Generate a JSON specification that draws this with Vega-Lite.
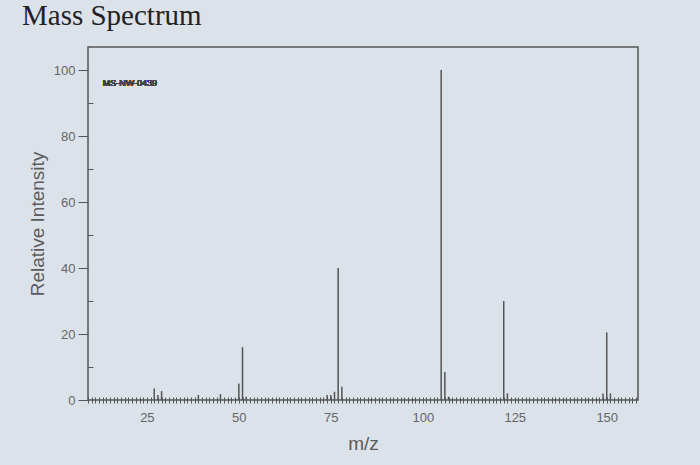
{
  "$schema": "https://vega.github.io/schema/vega-lite/v6.json",
  "autosize": "none",
  "width": 550,
  "height": 353,
  "padding": {"left": 88, "top": 47, "right": 62, "bottom": 65},
  "background": "#dce2ea",
  "title": {
    "text": "Mass Spectrum",
    "anchor": "start",
    "frame": "group",
    "dx": -66,
    "offset": 16,
    "font": "Liberation Serif",
    "fontSize": 29,
    "fontWeight": "normal",
    "color": "#222222"
  },
  "config": {
    "view": {"stroke": "#555555", "strokeWidth": 1.5},
    "axis": {
      "labelFont": "Liberation Sans",
      "titleFont": "Liberation Sans",
      "labelColor": "#666666",
      "titleColor": "#5a5a5a",
      "tickColor": "#555555",
      "domainColor": "#555555",
      "labelFontSize": 13,
      "titleFontSize": 19,
      "titleFontWeight": "normal",
      "grid": false
    }
  },
  "data": {
    "values": [
      {"mz": 27, "intensity": 3.5},
      {"mz": 28, "intensity": 1.5},
      {"mz": 29, "intensity": 2.7},
      {"mz": 39, "intensity": 1.5},
      {"mz": 45, "intensity": 1.8},
      {"mz": 50, "intensity": 5},
      {"mz": 51, "intensity": 16},
      {"mz": 52, "intensity": 1},
      {"mz": 74, "intensity": 1.5},
      {"mz": 75, "intensity": 1.5},
      {"mz": 76, "intensity": 2.5},
      {"mz": 77, "intensity": 40},
      {"mz": 78, "intensity": 4},
      {"mz": 105, "intensity": 100},
      {"mz": 106, "intensity": 8.5},
      {"mz": 107, "intensity": 1},
      {"mz": 122, "intensity": 30},
      {"mz": 123, "intensity": 2},
      {"mz": 149, "intensity": 2},
      {"mz": 150, "intensity": 20.5},
      {"mz": 151, "intensity": 2}
    ]
  },
  "layer": [
    {
      "mark": {"type": "rule", "color": "#555555", "strokeWidth": 1.5},
      "encoding": {
        "x": {
          "field": "mz",
          "type": "quantitative",
          "scale": {"domain": [9, 158.5], "nice": false, "zero": false},
          "axis": {
            "title": "m/z",
            "tickCount": 150,
            "labelExpr": "datum.value % 25 === 0 ? datum.label : ''",
            "labelOverlap": false,
            "labelFlush": false,
            "domain": false,
            "tickSize": 6,
            "offset": -3,
            "labelPadding": 8,
            "titlePadding": 10
          }
        },
        "y": {
          "field": "intensity",
          "type": "quantitative",
          "scale": {"domain": [0, 107], "nice": false},
          "axis": {
            "title": "Relative Intensity",
            "values": [0, 20, 40, 60, 80, 100],
            "tickSize": 10,
            "labelPadding": 3,
            "titlePadding": 6,
            "domain": false
          }
        },
        "y2": {"datum": 0}
      }
    },
    {
      "mark": {"type": "text", "align": "left", "baseline": "middle", "font": "Liberation Sans", "fontSize": 9, "color": "#444444"},
      "encoding": {
        "x": {"datum": 13},
        "y": {
          "datum": 96,
          "type": "quantitative",
          "axis": {
            "title": null,
            "orient": "left",
            "values": [10, 30, 50, 70, 90],
            "tickSize": -5,
            "labels": false,
            "domain": false
          }
        },
        "text": {"value": "MS-NW-0439"}
      }
    }
  ],
  "resolve": {"axis": {"y": "independent"}}
}
